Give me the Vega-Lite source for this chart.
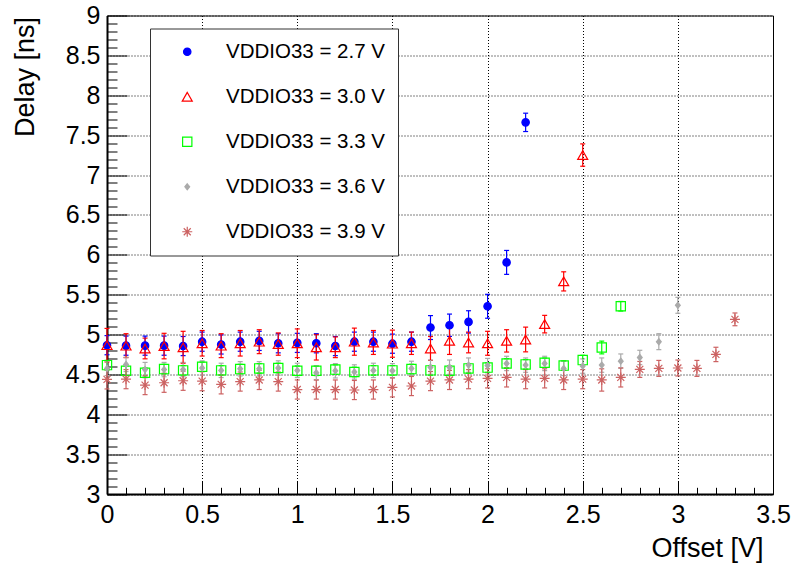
{
  "$schema": "https://vega.github.io/schema/vega-lite/v6.json",
  "width": 666,
  "height": 478.5,
  "autosize": {"type": "none"},
  "padding": {"left": 107, "top": 15.5, "right": 25, "bottom": 78},
  "background": "white",
  "config": {"font": "Liberation Sans", "view": {"stroke": "black", "strokeWidth": 1}},
  "data": {"values": [
    {"series": "2.7", "offset": 0.0, "delay": 4.866, "err": 0.12},
    {"series": "2.7", "offset": 0.1, "delay": 4.86, "err": 0.12},
    {"series": "2.7", "offset": 0.2, "delay": 4.86, "err": 0.12},
    {"series": "2.7", "offset": 0.3, "delay": 4.86, "err": 0.12},
    {"series": "2.7", "offset": 0.4, "delay": 4.855, "err": 0.12},
    {"series": "2.7", "offset": 0.5, "delay": 4.91, "err": 0.12},
    {"series": "2.7", "offset": 0.6, "delay": 4.875, "err": 0.12},
    {"series": "2.7", "offset": 0.7, "delay": 4.91, "err": 0.12},
    {"series": "2.7", "offset": 0.8, "delay": 4.92, "err": 0.12},
    {"series": "2.7", "offset": 0.9, "delay": 4.89, "err": 0.12},
    {"series": "2.7", "offset": 1.0, "delay": 4.895, "err": 0.12},
    {"series": "2.7", "offset": 1.1, "delay": 4.89, "err": 0.12},
    {"series": "2.7", "offset": 1.2, "delay": 4.855, "err": 0.12},
    {"series": "2.7", "offset": 1.3, "delay": 4.91, "err": 0.12},
    {"series": "2.7", "offset": 1.4, "delay": 4.91, "err": 0.12},
    {"series": "2.7", "offset": 1.5, "delay": 4.885, "err": 0.12},
    {"series": "2.7", "offset": 1.6, "delay": 4.91, "err": 0.12},
    {"series": "2.7", "offset": 1.7, "delay": 5.087, "err": 0.15},
    {"series": "2.7", "offset": 1.8, "delay": 5.116, "err": 0.14},
    {"series": "2.7", "offset": 1.9, "delay": 5.158, "err": 0.14},
    {"series": "2.7", "offset": 2.0, "delay": 5.354, "err": 0.15},
    {"series": "2.7", "offset": 2.1, "delay": 5.904, "err": 0.15},
    {"series": "2.7", "offset": 2.2, "delay": 7.66, "err": 0.115},
    {"series": "3.0", "offset": 0.0, "delay": 4.866, "err": 0.21},
    {"series": "3.0", "offset": 0.1, "delay": 4.86, "err": 0.15},
    {"series": "3.0", "offset": 0.2, "delay": 4.825, "err": 0.13},
    {"series": "3.0", "offset": 0.3, "delay": 4.855, "err": 0.16},
    {"series": "3.0", "offset": 0.4, "delay": 4.84, "err": 0.2},
    {"series": "3.0", "offset": 0.5, "delay": 4.89, "err": 0.16},
    {"series": "3.0", "offset": 0.6, "delay": 4.86, "err": 0.15},
    {"series": "3.0", "offset": 0.7, "delay": 4.89, "err": 0.16},
    {"series": "3.0", "offset": 0.8, "delay": 4.91, "err": 0.15},
    {"series": "3.0", "offset": 0.9, "delay": 4.88, "err": 0.14},
    {"series": "3.0", "offset": 1.0, "delay": 4.89, "err": 0.18},
    {"series": "3.0", "offset": 1.1, "delay": 4.84, "err": 0.16},
    {"series": "3.0", "offset": 1.2, "delay": 4.84, "err": 0.13},
    {"series": "3.0", "offset": 1.3, "delay": 4.91, "err": 0.17},
    {"series": "3.0", "offset": 1.4, "delay": 4.9, "err": 0.15},
    {"series": "3.0", "offset": 1.5, "delay": 4.885, "err": 0.17},
    {"series": "3.0", "offset": 1.6, "delay": 4.89, "err": 0.14},
    {"series": "3.0", "offset": 1.7, "delay": 4.825, "err": 0.15},
    {"series": "3.0", "offset": 1.8, "delay": 4.92, "err": 0.17},
    {"series": "3.0", "offset": 1.9, "delay": 4.9, "err": 0.13},
    {"series": "3.0", "offset": 2.0, "delay": 4.89, "err": 0.15},
    {"series": "3.0", "offset": 2.1, "delay": 4.92, "err": 0.14},
    {"series": "3.0", "offset": 2.2, "delay": 4.9375, "err": 0.155},
    {"series": "3.0", "offset": 2.3, "delay": 5.13, "err": 0.11},
    {"series": "3.0", "offset": 2.4, "delay": 5.666, "err": 0.12},
    {"series": "3.0", "offset": 2.5, "delay": 7.25, "err": 0.14},
    {"series": "3.3", "offset": 0.0, "delay": 4.616, "err": 0.06},
    {"series": "3.3", "offset": 0.1, "delay": 4.545, "err": 0.06},
    {"series": "3.3", "offset": 0.2, "delay": 4.52, "err": 0.06},
    {"series": "3.3", "offset": 0.3, "delay": 4.566, "err": 0.06},
    {"series": "3.3", "offset": 0.4, "delay": 4.55, "err": 0.06},
    {"series": "3.3", "offset": 0.5, "delay": 4.595, "err": 0.06},
    {"series": "3.3", "offset": 0.6, "delay": 4.55, "err": 0.06},
    {"series": "3.3", "offset": 0.7, "delay": 4.566, "err": 0.06},
    {"series": "3.3", "offset": 0.8, "delay": 4.575, "err": 0.06},
    {"series": "3.3", "offset": 0.9, "delay": 4.58, "err": 0.06},
    {"series": "3.3", "offset": 1.0, "delay": 4.545, "err": 0.06},
    {"series": "3.3", "offset": 1.1, "delay": 4.545, "err": 0.06},
    {"series": "3.3", "offset": 1.2, "delay": 4.56, "err": 0.06},
    {"series": "3.3", "offset": 1.3, "delay": 4.53, "err": 0.06},
    {"series": "3.3", "offset": 1.4, "delay": 4.55, "err": 0.06},
    {"series": "3.3", "offset": 1.5, "delay": 4.55, "err": 0.06},
    {"series": "3.3", "offset": 1.6, "delay": 4.566, "err": 0.06},
    {"series": "3.3", "offset": 1.7, "delay": 4.55, "err": 0.06},
    {"series": "3.3", "offset": 1.8, "delay": 4.545, "err": 0.06},
    {"series": "3.3", "offset": 1.9, "delay": 4.575, "err": 0.06},
    {"series": "3.3", "offset": 2.0, "delay": 4.585, "err": 0.06},
    {"series": "3.3", "offset": 2.1, "delay": 4.637, "err": 0.06},
    {"series": "3.3", "offset": 2.2, "delay": 4.625, "err": 0.06},
    {"series": "3.3", "offset": 2.3, "delay": 4.645, "err": 0.06},
    {"series": "3.3", "offset": 2.4, "delay": 4.61, "err": 0.06},
    {"series": "3.3", "offset": 2.5, "delay": 4.679, "err": 0.06},
    {"series": "3.3", "offset": 2.6, "delay": 4.837, "err": 0.08},
    {"series": "3.3", "offset": 2.7, "delay": 5.354, "err": 0.06},
    {"series": "3.6", "offset": 0.0, "delay": 4.575, "err": 0.09},
    {"series": "3.6", "offset": 0.1, "delay": 4.625, "err": 0.09},
    {"series": "3.6", "offset": 0.2, "delay": 4.56, "err": 0.09},
    {"series": "3.6", "offset": 0.3, "delay": 4.56, "err": 0.09},
    {"series": "3.6", "offset": 0.4, "delay": 4.56, "err": 0.09},
    {"series": "3.6", "offset": 0.5, "delay": 4.58, "err": 0.09},
    {"series": "3.6", "offset": 0.6, "delay": 4.55, "err": 0.09},
    {"series": "3.6", "offset": 0.7, "delay": 4.57, "err": 0.09},
    {"series": "3.6", "offset": 0.8, "delay": 4.57, "err": 0.09},
    {"series": "3.6", "offset": 0.9, "delay": 4.58, "err": 0.09},
    {"series": "3.6", "offset": 1.0, "delay": 4.55, "err": 0.09},
    {"series": "3.6", "offset": 1.1, "delay": 4.52, "err": 0.09},
    {"series": "3.6", "offset": 1.2, "delay": 4.545, "err": 0.09},
    {"series": "3.6", "offset": 1.3, "delay": 4.53, "err": 0.09},
    {"series": "3.6", "offset": 1.4, "delay": 4.55, "err": 0.09},
    {"series": "3.6", "offset": 1.5, "delay": 4.545, "err": 0.09},
    {"series": "3.6", "offset": 1.6, "delay": 4.575, "err": 0.09},
    {"series": "3.6", "offset": 1.7, "delay": 4.59, "err": 0.09},
    {"series": "3.6", "offset": 1.8, "delay": 4.59, "err": 0.09},
    {"series": "3.6", "offset": 1.9, "delay": 4.616, "err": 0.09},
    {"series": "3.6", "offset": 2.0, "delay": 4.61, "err": 0.09},
    {"series": "3.6", "offset": 2.1, "delay": 4.637, "err": 0.09},
    {"series": "3.6", "offset": 2.2, "delay": 4.616, "err": 0.09},
    {"series": "3.6", "offset": 2.3, "delay": 4.637, "err": 0.09},
    {"series": "3.6", "offset": 2.4, "delay": 4.575, "err": 0.09},
    {"series": "3.6", "offset": 2.5, "delay": 4.604, "err": 0.09},
    {"series": "3.6", "offset": 2.6, "delay": 4.616, "err": 0.09},
    {"series": "3.6", "offset": 2.7, "delay": 4.666, "err": 0.09},
    {"series": "3.6", "offset": 2.8, "delay": 4.712, "err": 0.09},
    {"series": "3.6", "offset": 2.9, "delay": 4.91, "err": 0.1},
    {"series": "3.6", "offset": 3.0, "delay": 5.366, "err": 0.1},
    {"series": "3.9", "offset": 0.0, "delay": 4.437, "err": 0.12},
    {"series": "3.9", "offset": 0.1, "delay": 4.44, "err": 0.12},
    {"series": "3.9", "offset": 0.2, "delay": 4.366, "err": 0.12},
    {"series": "3.9", "offset": 0.3, "delay": 4.395, "err": 0.12},
    {"series": "3.9", "offset": 0.4, "delay": 4.42, "err": 0.12},
    {"series": "3.9", "offset": 0.5, "delay": 4.415, "err": 0.12},
    {"series": "3.9", "offset": 0.6, "delay": 4.375, "err": 0.12},
    {"series": "3.9", "offset": 0.7, "delay": 4.41, "err": 0.12},
    {"series": "3.9", "offset": 0.8, "delay": 4.43, "err": 0.12},
    {"series": "3.9", "offset": 0.9, "delay": 4.41, "err": 0.12},
    {"series": "3.9", "offset": 1.0, "delay": 4.31, "err": 0.12},
    {"series": "3.9", "offset": 1.1, "delay": 4.31, "err": 0.12},
    {"series": "3.9", "offset": 1.2, "delay": 4.31, "err": 0.12},
    {"series": "3.9", "offset": 1.3, "delay": 4.304, "err": 0.12},
    {"series": "3.9", "offset": 1.4, "delay": 4.31, "err": 0.12},
    {"series": "3.9", "offset": 1.5, "delay": 4.337, "err": 0.12},
    {"series": "3.9", "offset": 1.6, "delay": 4.354, "err": 0.12},
    {"series": "3.9", "offset": 1.7, "delay": 4.416, "err": 0.12},
    {"series": "3.9", "offset": 1.8, "delay": 4.43, "err": 0.12},
    {"series": "3.9", "offset": 1.9, "delay": 4.44, "err": 0.12},
    {"series": "3.9", "offset": 2.0, "delay": 4.45, "err": 0.12},
    {"series": "3.9", "offset": 2.1, "delay": 4.462, "err": 0.12},
    {"series": "3.9", "offset": 2.2, "delay": 4.44, "err": 0.12},
    {"series": "3.9", "offset": 2.3, "delay": 4.45, "err": 0.12},
    {"series": "3.9", "offset": 2.4, "delay": 4.43, "err": 0.12},
    {"series": "3.9", "offset": 2.5, "delay": 4.44, "err": 0.12},
    {"series": "3.9", "offset": 2.6, "delay": 4.43, "err": 0.14},
    {"series": "3.9", "offset": 2.7, "delay": 4.462, "err": 0.12},
    {"series": "3.9", "offset": 2.8, "delay": 4.562, "err": 0.1},
    {"series": "3.9", "offset": 2.9, "delay": 4.575, "err": 0.1},
    {"series": "3.9", "offset": 3.0, "delay": 4.58, "err": 0.1},
    {"series": "3.9", "offset": 3.1, "delay": 4.575, "err": 0.1},
    {"series": "3.9", "offset": 3.2, "delay": 4.75, "err": 0.09},
    {"series": "3.9", "offset": 3.3, "delay": 5.19, "err": 0.08}
  ]},
  "encoding": {
    "x": {
      "field": "offset", "type": "quantitative",
      "scale": {"domain": [0, 3.5], "nice": false, "zero": false},
      "axis": {
        "values": [0,0.1,0.2,0.3,0.4,0.5,0.6,0.7,0.8,0.9,1,1.1,1.2,1.3,1.4,1.5,1.6,1.7,1.8,1.9,2,2.1,2.2,2.3,2.4,2.5,2.6,2.7,2.8,2.9,3,3.1,3.2,3.3,3.4,3.5],
        "format": "~g",
        "title": "Offset [V]", "titleFontSize": 27, "titleFontWeight": "normal", "titleColor": "black",
        "titleAlign": "right", "titleBaseline": "alphabetic", "titleX": 656, "titleY": 62.5,
        "labelFontSize": 25, "labelColor": "black", "labelPadding": 21, "labelFlush": false, "labelOverlap": false,
        "labelExpr": "abs(datum.value*2 - round(datum.value*2)) < 0.001 ? datum.label : ''",
        "tickSize": {"condition": {"test": "abs(datum.value*2 - round(datum.value*2)) < 0.001", "value": -13}, "value": -6.7},
        "tickColor": "black", "tickWidth": 1,
        "domainColor": "black", "domainWidth": 2,
        "grid": true, "gridColor": "black", "gridDash": [1, 2], "gridWidth": 1,
        "gridOpacity": {"condition": {"test": "abs(datum.value*2 - round(datum.value*2)) < 0.001", "value": 1}, "value": 0}
      }
    },
    "y": {
      "field": "delay", "type": "quantitative",
      "scale": {"domain": [3, 9], "nice": false, "zero": false},
      "axis": {
        "values": [3,3.1,3.2,3.3,3.4,3.5,3.6,3.7,3.8,3.9,4,4.1,4.2,4.3,4.4,4.5,4.6,4.7,4.8,4.9,5,5.1,5.2,5.3,5.4,5.5,5.6,5.7,5.8,5.9,6,6.1,6.2,6.3,6.4,6.5,6.6,6.7,6.8,6.9,7,7.1,7.2,7.3,7.4,7.5,7.6,7.7,7.8,7.9,8,8.1,8.2,8.3,8.4,8.5,8.6,8.7,8.8,8.9,9],
        "format": "~g",
        "title": "Delay [ns]", "titleFontSize": 27, "titleFontWeight": "normal", "titleColor": "black",
        "titleAngle": 270, "titleAlign": "right", "titleBaseline": "alphabetic", "titleX": -74, "titleY": 1,
        "labelFontSize": 25, "labelColor": "black", "labelPadding": 27, "labelFlush": false, "labelOverlap": false,
        "labelExpr": "abs(datum.value*2 - round(datum.value*2)) < 0.001 ? datum.label : ''",
        "tickSize": {"condition": {"test": "abs(datum.value*2 - round(datum.value*2)) < 0.001", "value": -20}, "value": -10},
        "tickColor": "black", "tickWidth": 1,
        "domainColor": "black", "domainWidth": 2,
        "grid": true, "gridColor": "black", "gridDash": [1, 2], "gridWidth": 1,
        "gridOpacity": {"condition": {"test": "abs(datum.value*2 - round(datum.value*2)) < 0.001", "value": 1}, "value": 0}
      }
    }
  },
  "resolve": {"legend": {"color": "independent", "shape": "independent", "size": "independent", "fill": "independent"}},
  "layer": [
    {
      "mark": {"type": "errorbar", "ticks": {"size": 5, "thickness": 1.2, "opacity": 1}, "rule": {"strokeWidth": 1.2}},
      "encoding": {
        "yError": {"field": "err"},
        "color": {"field": "series", "type": "nominal", "legend": null,
          "scale": {"domain": ["2.7", "3.0", "3.3", "3.6", "3.9"], "range": ["#0000ff", "#ff0000", "#00ff00", "#aaaaaa", "#cc6262"]}}
      }
    },
    {
      "mark": {"type": "point", "filled": false, "opacity": 1, "strokeWidth": 1.2},
      "encoding": {
        "color": {
          "field": "series", "type": "nominal",
          "scale": {"domain": ["2.7", "3.0", "3.3", "3.6", "3.9"], "range": ["#0000ff", "#ff0000", "#00ff00", "#aaaaaa", "#cc6262"]},
          "legend": {
            "title": null, "orient": "none", "legendX": 43, "legendY": 13, "direction": "vertical",
            "padding": 13, "fillColor": "white", "strokeColor": "#333333",
            "labelFontSize": 20.5, "labelColor": "black", "labelOffset": 28.5,
            "labelExpr": "'VDDIO33 = ' + datum.label + ' V'",
            "rowPadding": 24, "symbolStrokeWidth": 1.2, "symbolOffset": 14, "symbolOpacity": 1
          }
        },
        "shape": {"field": "series", "type": "nominal",
          "scale": {"domain": ["2.7", "3.0", "3.3", "3.6", "3.9"], "range": ["circle", "triangle-up", "square", "M0,-1L0.8,0L0,1L-0.8,0Z", "M-1,0L1,0M0,-1L0,1M-0.7,-0.7L0.7,0.7M-0.7,0.7L0.7,-0.7"]}},
        "size": {"field": "series", "type": "nominal",
          "scale": {"type": "ordinal", "domain": ["2.7", "3.0", "3.3", "3.6", "3.9"], "range": [55, 100, 86, 36, 100]}},
        "fill": {"field": "series", "type": "nominal",
          "scale": {"domain": ["2.7", "3.0", "3.3", "3.6", "3.9"], "range": ["#0000ff", "transparent", "transparent", "#aaaaaa", "transparent"]}}
      }
    }
  ]
}
